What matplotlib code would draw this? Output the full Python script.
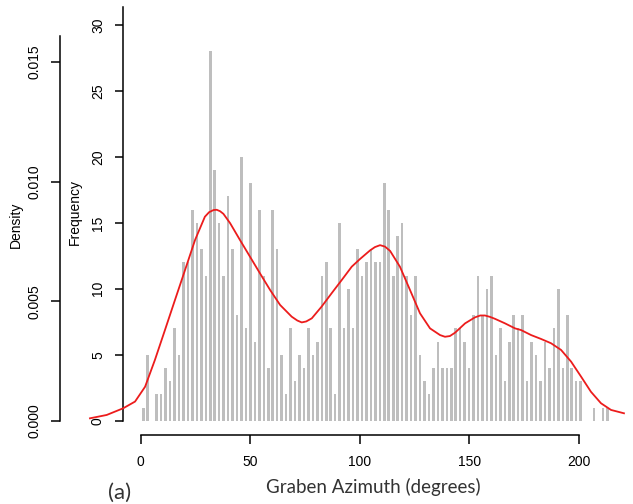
import numpy as np
import matplotlib
matplotlib.use('Agg')
import matplotlib.pyplot as plt

# histogram of graben azimuths, 2 degree bins from 0 to 210
bin_edges = np.arange(0, 212, 2)
counts = [1, 5, 0, 2, 2, 4, 3, 7, 5, 12,
          12, 16, 15, 13, 11, 28, 19, 15, 11, 17,
          13, 8, 20, 7, 18, 6, 16, 11, 4, 16,
          13, 5, 2, 7, 3, 5, 4, 7, 5, 6,
          11, 12, 7, 2, 15, 7, 10, 7, 13, 11,
          12, 13, 12, 12, 18, 16, 11, 14, 15, 11,
          8, 11, 5, 3, 2, 4, 6, 4, 4, 4,
          7, 7, 6, 4, 8, 11, 8, 10, 11, 5,
          7, 3, 6, 8, 7, 8, 3, 6, 5, 3,
          6, 4, 7, 10, 4, 8, 4, 3, 3, 0,
          0, 1, 0, 1, 1]

# density curve
curve_deg = [-22.9, -15.4, -8.0, -2.7, 1.8, 6.2, 10.7, 15.2, 19.7, 24.2,
             28.6, 30.5, 32.5, 33.9, 35.4, 36.9, 39.9, 44.3, 48.8, 53.3,
             57.8, 62.3, 67.5, 70.0, 72.0, 74.0, 76.5, 80.9, 85.4, 89.9,
             94.4, 98.1, 102.6, 104.8, 107.1, 109.3, 111.6, 116.0, 120.5, 125.0,
             129.5, 134.0, 136.2, 138.4, 140.7, 145.2, 149.6, 152.0, 154.1, 156.4,
             158.6, 163.1, 167.6, 170.3, 174.8, 179.2, 183.7, 188.2, 192.7, 197.2,
             201.6, 206.1, 210.6, 216.4]
curve_dens = [0.00010, 0.00024, 0.00052, 0.00080, 0.00142, 0.00254, 0.00379, 0.00505, 0.00630, 0.00756,
              0.00853, 0.00872, 0.00881, 0.00882, 0.00876, 0.00865, 0.00826, 0.00756, 0.00686, 0.00616,
              0.00547, 0.00484, 0.00435, 0.00419, 0.00411, 0.00415, 0.00428, 0.00477, 0.00533, 0.00588,
              0.00644, 0.00676, 0.00712, 0.00726, 0.00734, 0.00728, 0.00710, 0.00644, 0.00547, 0.00449,
              0.00386, 0.00358, 0.00351, 0.00354, 0.00368, 0.00407, 0.00432, 0.00440, 0.00440, 0.00434,
              0.00426, 0.00407, 0.00386, 0.00379, 0.00358, 0.00342, 0.00324, 0.00296, 0.00247, 0.00184,
              0.00121, 0.00073, 0.00045, 0.00031]

freq_ticks = [0, 5, 10, 15, 20, 25, 30]
dens_ticks = [0.0, 0.005, 0.010, 0.015]
dens_labels = ['0.000', '0.005', '0.010', '0.015']
x_ticks = [0, 50, 100, 150, 200]

W, H = 633, 504
X0_PX = 141.07       # pixel of 0 deg for the bars
PX_PER_DEG = 2.2315
ZERO_Y = 420.7
FREQ_PX = 13.19
DENS_PX = 23914.0
TOP_Y = 5


def px_box(left, top, right, bottom):
    return [left / W, 1 - bottom / H, (right - left) / W, (bottom - top) / H]


def deg_at(px):
    return (px - X0_PX) / PX_PER_DEG


plt.rcParams['font.family'] = ['Liberation Sans', 'DejaVu Sans']

fig = plt.figure(figsize=(W / 100, H / 100), dpi=100)

ax = fig.add_axes(px_box(0, TOP_Y, W, ZERO_Y))
ax.patch.set_visible(False)
ax.set_xlim(deg_at(0), deg_at(W))
ax.set_ylim(0, (ZERO_Y - TOP_Y) / FREQ_PX)
centers = bin_edges[:-1] + 1
ax.bar(centers, counts, width=1.15, color='#bebebe', linewidth=0)

for s in ['top', 'right', 'bottom']:
    ax.spines[s].set_visible(False)
ax.spines['left'].set_position(('data', deg_at(123)))
ax.spines['left'].set_bounds(0, (ZERO_Y - 6.7) / FREQ_PX)
ax.spines['left'].set_linewidth(1.1)
ax.set_xticks([])
ax.set_yticks(freq_ticks)
ax.tick_params(axis='y', length=6, width=1.1, pad=7, labelsize=10, labelrotation=90)
for t in ax.get_yticklabels():
    t.set_va('center')

ax2 = ax.twinx()
ax2.set_ylim(0, (ZERO_Y - TOP_Y) / DENS_PX)
ax2.plot(curve_deg, curve_dens, color='#ec1c1c', lw=1.3, solid_joinstyle='round')
for s in ['top', 'right', 'bottom']:
    ax2.spines[s].set_visible(False)
ax2.spines['left'].set_visible(True)
ax2.spines['left'].set_position(('data', deg_at(60)))
ax2.spines['left'].set_bounds(0, (ZERO_Y - 36) / DENS_PX)
ax2.spines['left'].set_linewidth(1.1)
ax2.yaxis.tick_left()
ax2.set_yticks(dens_ticks)
ax2.set_yticklabels(dens_labels)
ax2.tick_params(axis='y', length=6.5, width=1.1, pad=7, labelsize=10, labelrotation=90)
for t in ax2.get_yticklabels():
    t.set_va('center')

# x axis drawn on its own scale, as in the original composite
axx = fig.add_axes(px_box(140.7, 434, 579, 435))
axx.patch.set_visible(False)
axx.set_xlim(0, 200)
for s in ['top', 'right', 'left']:
    axx.spines[s].set_visible(False)
axx.spines['bottom'].set_linewidth(1.1)
axx.set_yticks([])
axx.set_xticks(x_ticks)
axx.tick_params(axis='x', length=6.5, width=1.1, pad=8, labelsize=10)

fig.text(16 / W, 1 - 225 / H, 'Density', rotation=90, ha='center', va='center', fontsize=10)
fig.text(75 / W, 1 - 212 / H, 'Frequency', rotation=90, ha='center', va='center', fontsize=10)
fig.text(373 / W, 1 - 487 / H, 'Graben Azimuth (degrees)', ha='center', va='center',
         fontsize=13.5, family='Lato', color='#333333')
fig.text(108 / W, 1 - 503 / H, '(a)', ha='left', va='bottom', fontsize=16, family='Lato', color='#333333')

fig.savefig('out.png', dpi=100)
